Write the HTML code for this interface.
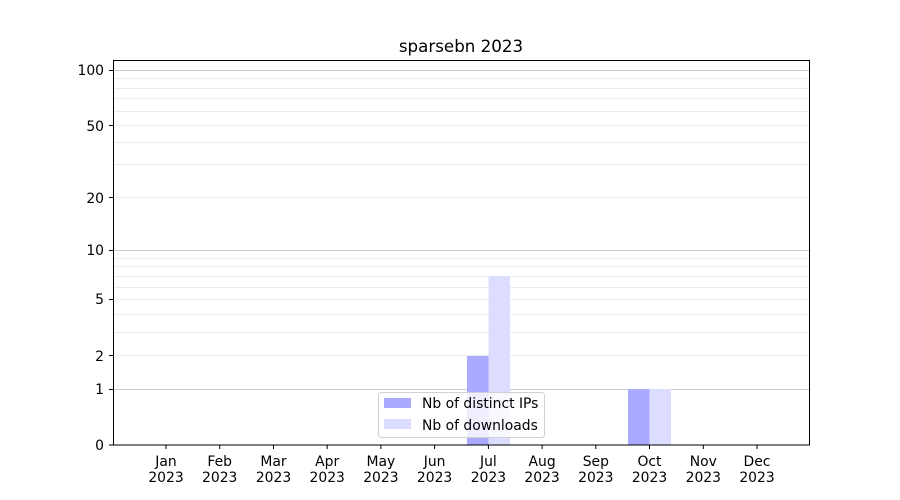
<!DOCTYPE html>
<html><head><meta charset="utf-8"><style>body{margin:0;background:#fff}svg{display:block;font-family:"DejaVu Sans","Liberation Sans",sans-serif}</style></head>
<body>
<svg width="900" height="500" viewBox="0 0 900 500">
<rect width="900" height="500" fill="#fff"/>
<g stroke-width="1">
<g stroke="#ebebeb">
<line x1="113" x2="809" y1="355.5" y2="355.5"/>
<line x1="113" x2="809" y1="332.5" y2="332.5"/>
<line x1="113" x2="809" y1="314.5" y2="314.5"/>
<line x1="113" x2="809" y1="299.5" y2="299.5"/>
<line x1="113" x2="809" y1="287.5" y2="287.5"/>
<line x1="113" x2="809" y1="276.5" y2="276.5"/>
<line x1="113" x2="809" y1="266.5" y2="266.5"/>
<line x1="113" x2="809" y1="258.5" y2="258.5"/>
<line x1="113" x2="809" y1="197.5" y2="197.5"/>
<line x1="113" x2="809" y1="164.5" y2="164.5"/>
<line x1="113" x2="809" y1="142.5" y2="142.5"/>
<line x1="113" x2="809" y1="125.5" y2="125.5"/>
<line x1="113" x2="809" y1="111.5" y2="111.5"/>
<line x1="113" x2="809" y1="98.5" y2="98.5"/>
<line x1="113" x2="809" y1="88.5" y2="88.5"/>
<line x1="113" x2="809" y1="78.5" y2="78.5"/>
</g>
<g stroke="#cccccc">
<line x1="113" x2="809" y1="389.5" y2="389.5"/>
<line x1="113" x2="809" y1="250.5" y2="250.5"/>
<line x1="113" x2="809" y1="70.5" y2="70.5"/>
</g>
</g>
<rect x="467" y="356" width="21.5" height="89" fill="#aaaaff"/>
<rect x="488.5" y="276" width="21.5" height="169" fill="#ddddff"/>
<rect x="628" y="389" width="21.5" height="56" fill="#aaaaff"/>
<rect x="649.5" y="389" width="21.5" height="56" fill="#ddddff"/>
<rect x="113.5" y="60.5" width="696" height="384.5" fill="none" stroke="#000"/>
<g stroke="#000">
<line x1="109" x2="113" y1="445" y2="445"/><line x1="109" x2="113" y1="389.5" y2="389.5"/>
<line x1="109" x2="113" y1="355.5" y2="355.5"/><line x1="109" x2="113" y1="299.5" y2="299.5"/>
<line x1="109" x2="113" y1="250.5" y2="250.5"/><line x1="109" x2="113" y1="197.5" y2="197.5"/>
<line x1="109" x2="113" y1="125.5" y2="125.5"/><line x1="109" x2="113" y1="70.5" y2="70.5"/>
</g>
<g font-size="13.9" text-anchor="end" fill="#000">
<text x="104" y="450">0</text><text x="104" y="394">1</text><text x="104" y="361">2</text>
<text x="104" y="304">5</text><text x="104" y="255">10</text><text x="104" y="203">20</text>
<text x="104" y="131">50</text><text x="104" y="75">100</text>
</g>
<g font-size="13.9" text-anchor="middle" fill="#000">
<g stroke="#000">
<line x1="166" x2="166" y1="445" y2="449"/><line x1="219.7" x2="219.7" y1="445" y2="449"/>
<line x1="273.5" x2="273.5" y1="445" y2="449"/><line x1="327.2" x2="327.2" y1="445" y2="449"/>
<line x1="380.9" x2="380.9" y1="445" y2="449"/><line x1="434.6" x2="434.6" y1="445" y2="449"/>
<line x1="488.4" x2="488.4" y1="445" y2="449"/><line x1="542.1" x2="542.1" y1="445" y2="449"/>
<line x1="595.8" x2="595.8" y1="445" y2="449"/><line x1="649.5" x2="649.5" y1="445" y2="449"/>
<line x1="703.3" x2="703.3" y1="445" y2="449"/><line x1="757" x2="757" y1="445" y2="449"/>
</g>
<text x="166" y="466">Jan</text><text x="166" y="482">2023</text>
<text x="219.7" y="466">Feb</text><text x="219.7" y="482">2023</text>
<text x="273.5" y="466">Mar</text><text x="273.5" y="482">2023</text>
<text x="327.2" y="466">Apr</text><text x="327.2" y="482">2023</text>
<text x="380.9" y="466">May</text><text x="380.9" y="482">2023</text>
<text x="434.6" y="466">Jun</text><text x="434.6" y="482">2023</text>
<text x="488.4" y="466">Jul</text><text x="488.4" y="482">2023</text>
<text x="542.1" y="466">Aug</text><text x="542.1" y="482">2023</text>
<text x="595.8" y="466">Sep</text><text x="595.8" y="482">2023</text>
<text x="649.5" y="466">Oct</text><text x="649.5" y="482">2023</text>
<text x="703.3" y="466">Nov</text><text x="703.3" y="482">2023</text>
<text x="757" y="466">Dec</text><text x="757" y="482">2023</text>
</g>
<text x="461" y="52" font-size="16.7" text-anchor="middle">sparsebn 2023</text>
<rect x="378.5" y="392.5" width="166" height="45" rx="3" fill="#fff" fill-opacity="0.8" stroke="#d0d0d0"/>
<rect x="384" y="398" width="27" height="10" fill="#aaaaff"/>
<rect x="384" y="419" width="27" height="10" fill="#ddddff"/>
<g font-size="13.9"><text x="422" y="408">Nb of distinct IPs</text><text x="422" y="430">Nb of downloads</text></g>
</svg>
</body></html>
